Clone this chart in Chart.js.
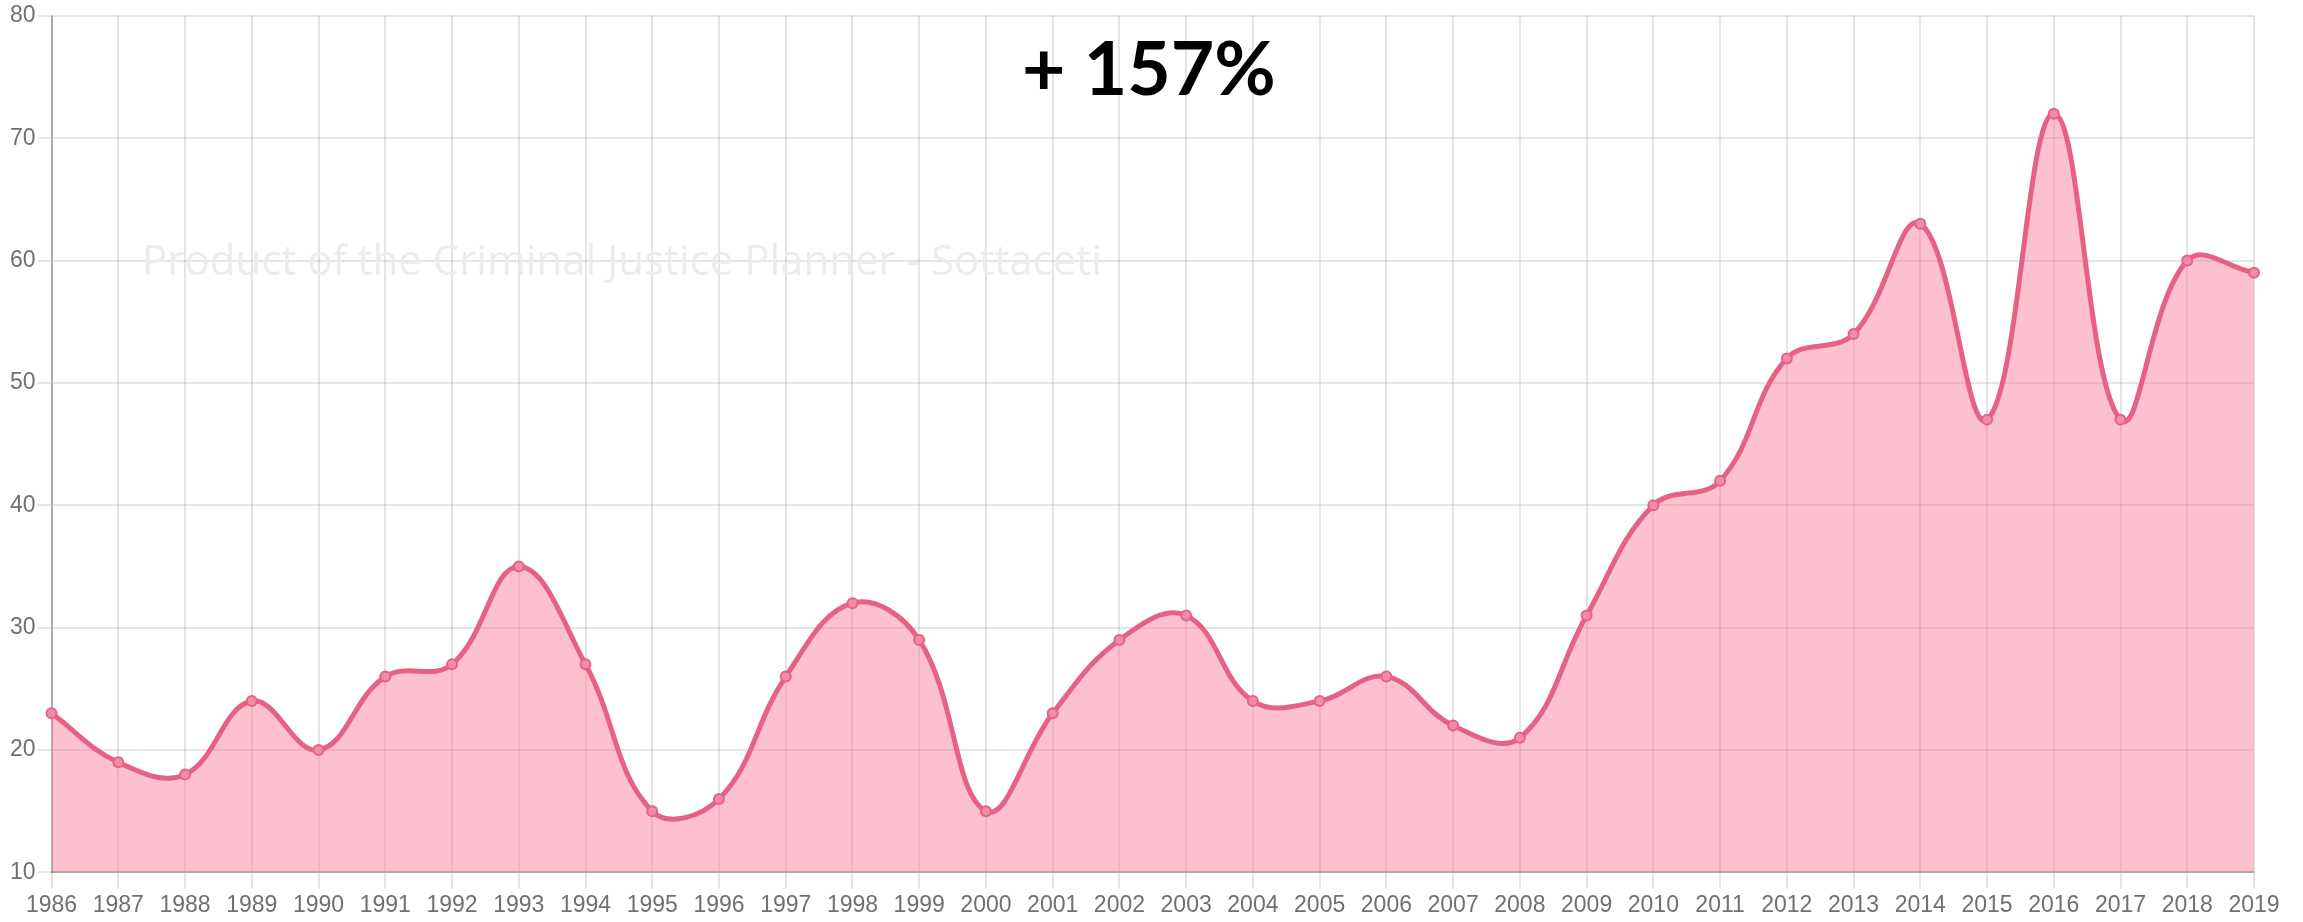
<!DOCTYPE html>
<html>
<head>
<meta charset="utf-8">
<script src="https://cdn.jsdelivr.net/npm/chart.js@4"></script>
<style>
  body { margin: 0; background: #fff; }
  #wrap { position: relative; width: 2303px; height: 922px; }
  #headline {
    position: absolute; left: 1022px; top: 29px;
    font-family: Lato, sans-serif; font-weight: 700; font-size: 75px; line-height: 75px;
    color: #000; white-space: nowrap;
  }
  #mark {
    position: absolute; left: 142px; top: 238px;
    font-family: "Open Sans", sans-serif; font-size: 42px; line-height: 42px;
    color: #ececec; white-space: nowrap;
  }
</style>
</head>
<body>
<div id="wrap">
  <canvas id="crimeChart"></canvas>
  <div id="mark">Product of the Criminal Justice Planner - Sottaceti</div>
  <div id="headline">+ 157%</div>
</div>
<script>
// years on the x axis
const years = ['1986', '1987', '1988', '1989', '1990', '1991', '1992', '1993', '1994', '1995',
  '1996', '1997', '1998', '1999', '2000', '2001', '2002', '2003', '2004', '2005',
  '2006', '2007', '2008', '2009', '2010', '2011', '2012', '2013', '2014', '2015',
  '2016', '2017', '2018', '2019'];

// yearly values
const counts = [23, 19, 18, 24, 20, 26, 27, 35, 27, 15,
  16, 26, 32, 29, 15, 23, 29, 31, 24, 24,
  26, 22, 21, 31, 40, 42, 52, 54, 63, 47,
  72, 47, 60, 59];

const yMin = 10;
const yMax = 80;
const yStep = 10;

const lineColor = 'rgb(230, 98, 133)';
const fillColor = 'rgba(249, 115, 148, 0.45)';

const tickFont = { family: '"Liberation Sans Narrow", "Arial Narrow", "Liberation Sans", sans-serif', size: 23 };

const ctx = document.getElementById('crimeChart').getContext('2d');
new Chart(ctx, {
    type: 'line',
    data: {
        labels: years,
        datasets: [{
            data: counts,
            borderColor: lineColor,
            backgroundColor: fillColor,
            borderWidth: 5,
            fill: 'start',
            tension: 0.4,
            pointRadius: 5,
            pointBorderWidth: 2,
            pointBorderColor: lineColor,
            pointBackgroundColor: 'rgb(240, 140, 165)',
        }],
    },
    options: {
        responsive: true,
        maintainAspectRatio: false,
        animation: false,
        layout: {
            padding: { left: 8, top: 7, right: 49, bottom: 0 },
        },
        plugins: {
            legend: { display: false },
            tooltip: { enabled: false },
        },
        scales: {
            x: {
                grid: { color: 'rgba(0,0,0,0.1)', tickLength: 16, lineWidth: 2 },
                border: { color: 'rgba(0,0,0,0.25)', width: 2 },
                ticks: { font: tickFont, color: '#707070', padding: 3, maxRotation: 0, autoSkip: false },
            },
            y: {
                min: yMin,
                max: yMax,
                grid: { color: 'rgba(0,0,0,0.1)', tickLength: 14, lineWidth: 2 },
                border: { color: 'rgba(0,0,0,0.25)', width: 2 },
                ticks: { font: tickFont, color: '#707070', stepSize: yStep, padding: 2 },
            },
        },
    },
});
</script>
</body>
</html>
